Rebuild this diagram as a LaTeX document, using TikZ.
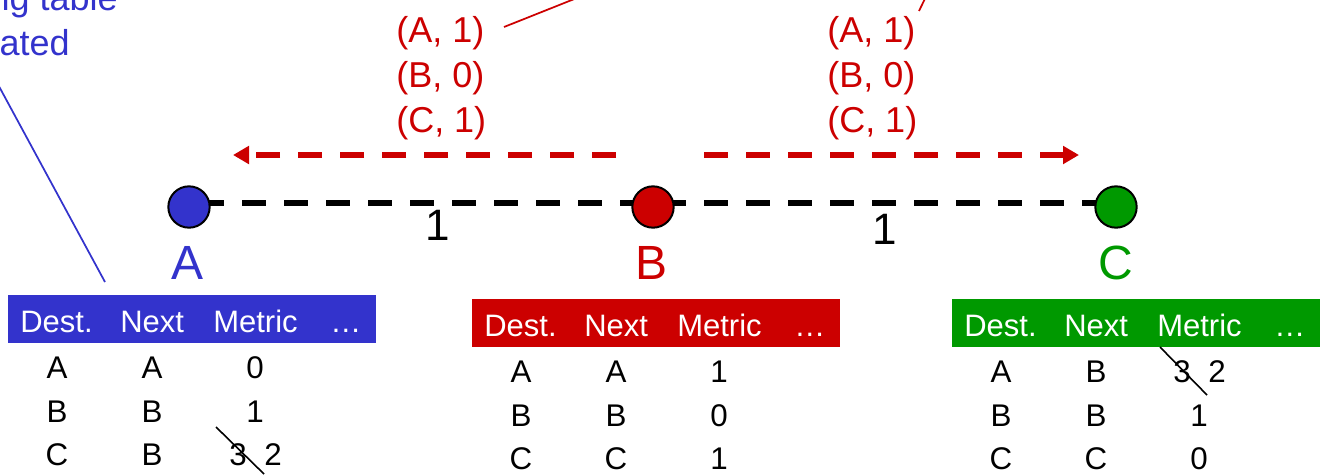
\documentclass[tikz,border=0pt]{standalone}
\usepackage{fontspec}
\setmainfont{Liberation Sans}
\usetikzlibrary{arrows.meta}
\definecolor{myblue}{RGB}{51,51,204}
\definecolor{myred}{RGB}{204,0,0}
\definecolor{mygreen}{RGB}{0,153,0}
\pgfdeclarelayer{bg}
\pgfsetlayers{bg,main}
\begin{document}
\begin{tikzpicture}[x=0.75pt,y=-0.75pt,
  dot/.style={circle,draw=black,line width=1.5pt,minimum size=31pt,inner sep=0pt},
  link/.style={line width=3.8pt,dash pattern=on 18pt off 13.5pt,dash phase=23pt},
  msg/.style={myred,line width=4.1pt,dash pattern=on 18pt off 13.5pt,-{Triangle[length=12pt,width=13pt]}},
  nlabel/.style={font=\fontsize{36}{40}\selectfont,anchor=base,inner sep=0pt},
  cost/.style={font=\fontsize{33}{36}\selectfont,anchor=base,inner sep=0pt},
  ann/.style={font=\fontsize{27}{32}\selectfont,inner sep=0pt},
  hdr/.style={font=\fontsize{23.25}{28}\selectfont,text=white,anchor=base west,inner sep=0pt},
  cell/.style={font=\fontsize{23.5}{28}\selectfont,anchor=base,inner sep=0pt},
  strike/.style={line width=1.2pt,black},
  callout/.style={line width=1.3pt}
]
\clip (0,0) rectangle (1320,475);

% annotation top left
\node[ann,text=myblue,anchor=base east] (t1) at (118,10) {Routing table};
\node[ann,text=myblue,anchor=base east] (t2) at (70,55) {updated};
\coordinate (bt) at (-12,66);
\coordinate (be) at (105,282);
\draw[callout,myblue] (bt) -- (be);

% messages
\node[ann,text=myred,anchor=base west] (m1a) at (396,42) {(A, 1)};
\node[ann,text=myred,anchor=base west] (m1b) at (396,87) {(B, 0)};
\node[ann,text=myred,anchor=base west] (m1c) at (396,132) {(C, 1)};
\node[ann,text=myred,anchor=base west] (m2a) at (827,42) {(A, 1)};
\node[ann,text=myred,anchor=base west] (m2b) at (827,87) {(B, 0)};
\node[ann,text=myred,anchor=base west] (m2c) at (827,132) {(C, 1)};
\coordinate (c1s) at (504,27);
\coordinate (c1e) at (622,-20);
\coordinate (c2s) at (919,11);
\coordinate (c2e) at (934,-20);
\draw[callout,myred] (c1s) -- (c1e);
\draw[callout,myred] (c2s) -- (c2e);

% nodes
\node[dot,fill=myblue] (A) at (189,207) {};
\node[dot,fill=myred] (B) at (653,207) {};
\node[dot,fill=mygreen] (C) at (1116,207) {};
\begin{pgfonlayer}{bg}
\draw[link] ([yshift=3pt]A.center) -- ([yshift=3pt]C.center);
\end{pgfonlayer}
\node[nlabel,text=myblue] (lA) at (188,279) {A};
\node[nlabel,text=myred] (lB) at (651,279) {B};
\node[nlabel,text=mygreen] (lC) at (1116,279) {C};
\node[cost] (w1) at (438,240) {1};
\node[cost] (w2) at (885,244) {1};

\coordinate (r1s) at (616,155);
\coordinate (r1e) at (233,155);
\coordinate (r2s) at (704,155);
\coordinate (r2e) at (1079,155);
\draw[msg] (r1s) -- (r1e);
\draw[msg] (r2s) -- (r2e);

% table A
\fill[myblue] (8,295) rectangle (376,343);
\node[hdr] (ah1) at (20,332) {Dest.};
\node[hdr] (ah2) at (120,332) {Next};
\node[hdr] (ah3) at (213,332) {Metric};
\node[hdr] (ah4) at (330,332) {…};
\node[cell] (a11) at (57,378) {A};
\node[cell] (a12) at (152,378) {A};
\node[cell] (a13) at (255,378) {0};
\node[cell] (a21) at (57,422) {B};
\node[cell] (a22) at (152,422) {B};
\node[cell] (a23) at (255,422) {1};
\node[cell] (a31) at (57,465) {C};
\node[cell] (a32) at (152,465) {B};
\node[cell] (a33) at (238,465) {3};
\node[cell] (a34) at (273,465) {2};
\coordinate (as1) at (216,427);
\coordinate (as2) at (264,474);
\draw[strike] (as1) -- (as2);

% table B
\begin{scope}[shift={(464,4)}]
\fill[myred] (8,295) rectangle (376,343);
\node[hdr] (bh1) at (20,332) {Dest.};
\node[hdr] (bh2) at (120,332) {Next};
\node[hdr] (bh3) at (213,332) {Metric};
\node[hdr] (bh4) at (330,332) {…};
\node[cell] (b11) at (57,378) {A};
\node[cell] (b12) at (152,378) {A};
\node[cell] (b13) at (255,378) {1};
\node[cell] (b21) at (57,422) {B};
\node[cell] (b22) at (152,422) {B};
\node[cell] (b23) at (255,422) {0};
\node[cell] (b31) at (57,465) {C};
\node[cell] (b32) at (152,465) {C};
\node[cell] (b33) at (255,465) {1};
\end{scope}

% table C
\begin{scope}[shift={(944,4)}]
\fill[mygreen] (8,295) rectangle (390,343);
\node[hdr] (ch1) at (20,332) {Dest.};
\node[hdr] (ch2) at (120,332) {Next};
\node[hdr] (ch3) at (213,332) {Metric};
\node[hdr] (ch4) at (330,332) {…};
\node[cell] (c11) at (57,378) {A};
\node[cell] (c12) at (152,378) {B};
\node[cell] (c13) at (238,378) {3};
\node[cell] (c14) at (273,378) {2};
\node[cell] (c21) at (57,422) {B};
\node[cell] (c22) at (152,422) {B};
\node[cell] (c23) at (255,422) {1};
\node[cell] (c31) at (57,465) {C};
\node[cell] (c32) at (152,465) {C};
\node[cell] (c33) at (255,465) {0};
\coordinate (cs1) at (216,343);
\coordinate (cs2) at (263,391);
\draw[strike] (cs1) -- (cs2);
\end{scope}
\end{tikzpicture}
\end{document}
